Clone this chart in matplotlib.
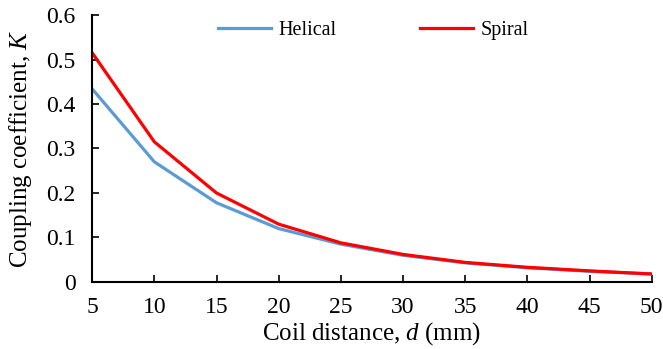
import matplotlib
matplotlib.use('Agg')
import matplotlib.pyplot as plt

plt.rcParams['font.family'] = 'Liberation Serif'
plt.rcParams['mathtext.fontset'] = 'custom'
plt.rcParams['mathtext.rm'] = 'Liberation Serif'
plt.rcParams['mathtext.it'] = 'Liberation Serif:italic'

distance = [5, 10, 15, 20, 25, 30, 35, 40, 45, 50]
helical = [0.434, 0.270, 0.178, 0.120, 0.085, 0.060, 0.043, 0.032, 0.024, 0.018]
spiral = [0.515, 0.315, 0.200, 0.130, 0.088, 0.062, 0.044, 0.033, 0.025, 0.018]

fig = plt.figure(figsize=(6.63, 3.49), dpi=100)
ax = fig.add_axes([0.139, 0.192, 0.844, 0.765])

ax.plot(distance, helical, color='#5B9BD5', linewidth=2.3, label='Helical')
ax.plot(distance, spiral, color='#FF0000', linewidth=2.3, label='Spiral')

ax.set_xlim(5, 50)
ax.set_ylim(0, 0.6)
ax.set_xticks(distance)
ax.set_yticks([0, 0.1, 0.2, 0.3, 0.4, 0.5, 0.6])
ax.set_yticklabels(['0', '0.1', '0.2', '0.3', '0.4', '0.5', '0.6'])
ax.tick_params(direction='in', length=5, width=1.2, labelsize=17)
ax.tick_params(axis='y', pad=12)
ax.tick_params(axis='x', pad=11)

for s in ['top', 'right']:
    ax.spines[s].set_visible(False)
for s in ['left', 'bottom']:
    ax.spines[s].set_linewidth(1.5)

ax.set_xlabel('Coil distance, $d$ (mm)', fontsize=18, labelpad=1)
ax.set_ylabel('Coupling coefficient, $K$', fontsize=18, labelpad=9)

ax.legend(loc='upper center', bbox_to_anchor=(0.503, 1.045), ncol=2, frameon=False,
          fontsize=14.5, handlelength=2.6, columnspacing=4.15, handletextpad=0.4)

fig.savefig('out.png', dpi=100)
